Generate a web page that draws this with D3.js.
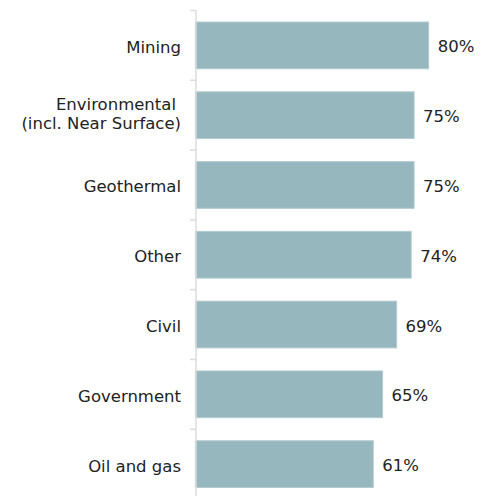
<!DOCTYPE html>
<html><head><meta charset="utf-8">
<script src="https://cdn.jsdelivr.net/npm/d3@7"></script>
<style>body{margin:0;background:#fff}svg{display:block}</style>
</head><body>
<svg id="c" width="481" height="496"></svg>
<script>
const categories = ["Mining", "Environmental\n(incl. Near Surface)", "Geothermal", "Other", "Civil", "Government", "Oil and gas"];
const values = [80, 75, 75, 74, 69, 64.2, 61];
const valueLabels = ["80%", "75%", "75%", "74%", "69%", "65%", "61%"];

const svg = d3.select("#c");
const x = d3.scaleLinear().domain([0, 100]).range([195.4, 487]);
const y = d3.scaleBand().domain(categories).range([10.5, 499]).paddingInner(0.33).paddingOuter(0.165);
const font = "'DejaVu Sans', sans-serif";
const fs = 16.5;
const axisX = 196;

// bars
svg.selectAll("rect.bar").data(values).join("rect").attr("class", "bar")
  .attr("x", x(0)).attr("y", (d, i) => y(categories[i]))
  .attr("width", d => x(d) - x(0)).attr("height", y.bandwidth())
  .attr("fill", "#97b7bf").attr("stroke", "#b3cbd1").attr("stroke-width", 1);

// axis
const axisG = svg.append("g").attr("transform", `translate(${axisX},0)`);
axisG.append("line").attr("x1", 0).attr("x2", 0).attr("y1", 10).attr("y2", 498).attr("stroke", "#dcdcdc").attr("stroke-width", 1.5);
const step = y.step();
const ticks = d3.range(categories.length + 1).map(i => 10.5 + i * step);
axisG.selectAll("line.t").data(ticks).join("line").attr("class", "t")
  .attr("x1", -6).attr("x2", 0).attr("y1", d => d).attr("y2", d => d)
  .attr("stroke", "#dcdcdc").attr("stroke-width", 1.5);

// value labels
svg.selectAll("text.v").data(values).join("text").attr("class", "v")
  .attr("x", d => x(d) + 9).attr("y", (d, i) => y(categories[i]) + y.bandwidth() / 2 + 7)
  .attr("font-family", font).attr("font-size", fs).attr("fill", "#222")
  .text((d, i) => valueLabels[i]);

// category labels
const cl = svg.selectAll("text.c").data(categories).join("text").attr("class", "c")
  .attr("text-anchor", "end").attr("font-family", font).attr("font-size", fs).attr("fill", "#222")
  .attr("x", 181);
cl.each(function(d) {
  const lines = d.split("\n");
  const t = d3.select(this);
  const cy = y(d) + y.bandwidth() / 2;
  if (lines.length === 1) {
    t.append("tspan").attr("x", 181).attr("y", cy + 7.5).text(lines[0]);
  } else {
    t.append("tspan").attr("x", 176).attr("y", cy - 5.5).text(lines[0]);
    t.append("tspan").attr("x", 181).attr("y", cy + 14).text(lines[1]);
  }
});
</script>
</body></html>
